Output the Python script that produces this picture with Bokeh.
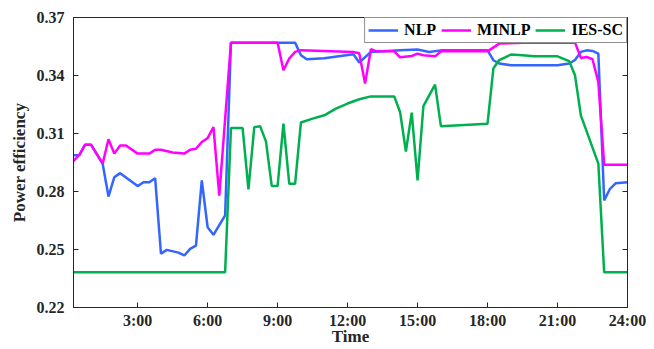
from bokeh.plotting import figure
from bokeh.models import Range1d, FixedTicker, LinearAxis, CustomJSTickFormatter
from bokeh.embed import file_html
from bokeh.resources import INLINE

# Time in hours, values = power efficiency
nlp_t = [0.25, 0.5, 0.75, 1.0, 1.5, 1.75, 2.0, 2.25, 3.0, 3.25, 3.5, 3.75, 4.0, 4.25,
         4.75, 5.0, 5.25, 5.5, 5.75, 6.0, 6.25, 6.75, 7.0, 9.75, 10.0, 10.25, 11.0,
         12.25, 12.5, 13.0, 14.25, 15.0, 15.5, 16.0, 18.0, 18.25, 18.5, 19.0, 21.0,
         21.5, 21.75, 22.0, 22.25, 22.5, 22.75, 23.0, 23.25, 23.5, 24.0]
nlp_v = [0.2988, 0.2988, 0.3042, 0.3042, 0.2944, 0.2774, 0.2874, 0.2895, 0.2828, 0.2848,
         0.2848, 0.2869, 0.2478, 0.2498, 0.2484, 0.2469, 0.2503, 0.2520, 0.2857, 0.2615,
         0.2576, 0.2676, 0.357, 0.357, 0.3505, 0.3484, 0.3489, 0.351, 0.3467, 0.3522,
         0.353, 0.3534, 0.3522, 0.353, 0.353, 0.3479, 0.3462, 0.3453, 0.3453, 0.3462,
         0.3480, 0.3522, 0.353, 0.3527, 0.3513, 0.2754, 0.2814, 0.2843, 0.2848]

minlp_t = [0.25, 0.5, 0.75, 1.0, 1.5, 1.75, 2.0, 2.25, 2.5, 3.0, 3.5, 3.75, 4.0, 4.5,
           5.0, 5.25, 5.5, 5.75, 6.0, 6.25, 6.5, 7.0, 9.0, 9.25, 9.5, 9.75, 10.0,
           12.25, 12.5, 12.75, 13.0, 13.25, 14.0, 14.25, 14.75, 15.0, 15.25, 15.75,
           16.0, 18.0, 18.5, 19.5, 21.75, 22.0, 22.25, 22.5, 22.75, 23.0, 24.0]
minlp_v = [0.2957, 0.299, 0.3042, 0.3042, 0.2944, 0.3070, 0.2996, 0.3038, 0.3038, 0.2996,
           0.2996, 0.3016, 0.3016, 0.3002, 0.2996, 0.3016, 0.3021, 0.3056, 0.3076, 0.3133,
           0.2779, 0.357, 0.357, 0.3427, 0.3488, 0.3522, 0.3531, 0.3522, 0.3515, 0.3358,
           0.3536, 0.3525, 0.3525, 0.3494, 0.3501, 0.3513, 0.3505, 0.3499, 0.3525, 0.3525,
           0.3565, 0.357, 0.357, 0.3491, 0.3496, 0.3484, 0.3366, 0.2939, 0.2939]

ies_t = [0.25, 6.75, 7.0, 7.5, 7.75, 8.0, 8.25, 8.5, 8.75, 9.0, 9.25, 9.5, 9.75, 10.0,
         10.5, 11.0, 11.5, 12.0, 12.5, 13.0, 14.0, 14.25, 14.5, 14.75, 15.0, 15.25,
         15.75, 16.0, 18.0, 18.25, 18.5, 19.0, 19.5, 20.0, 21.0, 21.5, 21.75, 22.0,
         22.75, 23.0, 24.0]
ies_v = [0.2382, 0.2382, 0.3128, 0.3128, 0.2811, 0.3133, 0.3138, 0.3059, 0.2828, 0.2828,
         0.3151, 0.284, 0.284, 0.3157, 0.3177, 0.3194, 0.3229, 0.3255, 0.3277, 0.3292,
         0.3292, 0.3211, 0.3007, 0.3208, 0.2857, 0.3242, 0.3353, 0.3138, 0.3151, 0.3436,
         0.348, 0.3508, 0.3505, 0.3499, 0.3499, 0.3474, 0.3401, 0.3194, 0.2944, 0.2382,
         0.2382]

x_ticks = [3, 6, 9, 12, 15, 18, 21, 24]
x_tick_labels = ["3:00", "6:00", "9:00", "12:00", "15:00", "18:00", "21:00", "24:00"]
y_ticks = [0.22, 0.25, 0.28, 0.31, 0.34, 0.37]
y_tick_labels = ["0.22", "0.25", "0.28", "0.31", "0.34", "0.37"]

FONT = "Liberation Serif"
AX = "#262626"

p = figure(width=654, height=349, output_backend="svg", toolbar_location=None,
           x_range=Range1d(0.25, 24), y_range=Range1d(0.22, 0.37),
           min_border_left=73, min_border_right=27, min_border_top=17,
           min_border_bottom=42)
p.grid.visible = False
p.outline_line_color = AX
p.outline_line_width = 1
p.background_fill_color = "white"

p.line(nlp_t, nlp_v, line_color="#3366FF", line_width=2.5, legend_label="NLP")
p.line(minlp_t, minlp_v, line_color="#FF00FF", line_width=2.5, legend_label="MINLP")
p.line(ies_t, ies_v, line_color="#00B050", line_width=2.5, legend_label="IES-SC")

xa = p.xaxis[0]
xa.ticker = FixedTicker(ticks=x_ticks)
xa.major_label_overrides = dict(zip(x_ticks, x_tick_labels))
ya = p.yaxis[0]
ya.ticker = FixedTicker(ticks=y_ticks)
ya.major_label_overrides = dict(zip(y_ticks, y_tick_labels))

for ax in (xa, ya):
    ax.axis_line_color = AX
    ax.major_tick_line_color = AX
    ax.major_tick_in = 5
    ax.major_tick_out = 0
    ax.minor_tick_line_color = None
    ax.major_label_text_font = FONT
    ax.major_label_text_font_style = "bold"
    ax.major_label_text_font_size = "16px"
    ax.major_label_text_color = "#262626"
    ax.axis_label_text_font = FONT
    ax.axis_label_text_font_style = "bold"
    ax.axis_label_text_font_size = "17px"
    ax.axis_label_text_color = "#262626"

xa.axis_label = "Time"
xa.major_label_standoff = 4
xa.axis_label_standoff = -5
ya.axis_label = "Power efficiency"
ya.major_label_standoff = 9
ya.axis_label_standoff = 5

ra = LinearAxis(ticker=FixedTicker(ticks=y_ticks),
                formatter=CustomJSTickFormatter(code="return ''"))
ra.axis_line_color = AX
ra.major_tick_line_color = AX
ra.major_tick_in = 5
ra.major_tick_out = 0
ra.minor_tick_line_color = None
ra.major_label_standoff = 0
p.add_layout(ra, "right")

lg = p.legend[0]
lg.orientation = "horizontal"
lg.location = "top_right"
lg.margin = 0
lg.padding = 3
lg.spacing = 5
lg.glyph_width = 30
lg.glyph_height = 14
lg.label_height = 14
lg.label_standoff = 6
lg.label_text_font = FONT
lg.label_text_font_style = "bold"
lg.label_text_font_size = "16px"
lg.label_text_color = "#000000"
lg.border_line_color = "#262626"
lg.border_line_width = 1
lg.background_fill_alpha = 1

open("out.html", "w").write(file_html(p, INLINE))
